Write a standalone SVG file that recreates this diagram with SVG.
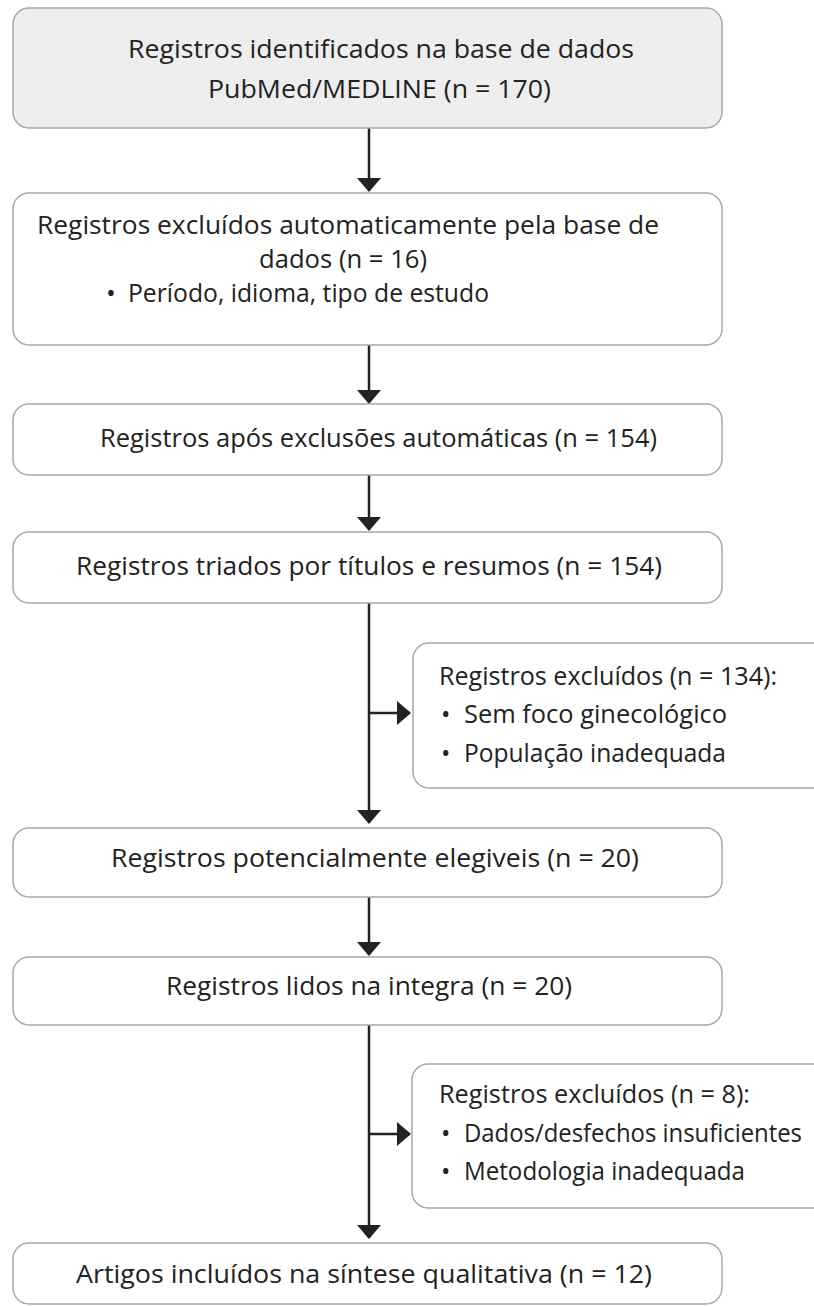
<svg xmlns="http://www.w3.org/2000/svg" width="814" height="1306" viewBox="0 0 814 1306">
<defs>
<style>
.box{fill:#ffffff;stroke:#a8a8a8;stroke-width:1.5}
.grey{fill:#eeeeee}
.t{font-family:"Open Sans","Noto Sans",sans-serif;font-size:26px;fill:#222222}
.s{font-family:"Open Sans","Noto Sans",sans-serif;font-size:25px;fill:#222222}
.ln{stroke:#222222;stroke-width:2.5;fill:none}
</style>
<marker id="ah" viewBox="0 0 14 24" refX="13" refY="12" markerWidth="14" markerHeight="24" markerUnits="userSpaceOnUse" orient="auto">
<path d="M0,0 L14,12 L0,24 Z" fill="#222222"/>
</marker>
</defs>
<rect width="814" height="1306" fill="#ffffff"/>
<g id="connectors">
<line class="ln" x1="369" y1="128" x2="369" y2="191" marker-end="url(#ah)"/>
<line class="ln" x1="369" y1="345" x2="369" y2="403" marker-end="url(#ah)"/>
<line class="ln" x1="369" y1="475" x2="369" y2="530" marker-end="url(#ah)"/>
<line class="ln" x1="369" y1="603" x2="369" y2="823" marker-end="url(#ah)"/>
<line class="ln" x1="369" y1="713" x2="410" y2="713" marker-end="url(#ah)"/>
<line class="ln" x1="369" y1="897" x2="369" y2="955" marker-end="url(#ah)"/>
<line class="ln" x1="369" y1="1025" x2="369" y2="1238" marker-end="url(#ah)"/>
<line class="ln" x1="369" y1="1134" x2="410" y2="1134" marker-end="url(#ah)"/>
</g>
<g id="n1">
<rect class="box grey" x="13" y="8" width="709" height="120" rx="16"/>
<text class="t" x="128" y="58" textLength="506" lengthAdjust="spacingAndGlyphs">Registros identificados na base de dados</text>
<text class="t" x="208" y="98" textLength="343" lengthAdjust="spacingAndGlyphs">PubMed/MEDLINE (n = 170)</text>
</g>
<g id="n2">
<rect class="box" x="13" y="193" width="709" height="152" rx="16"/>
<text class="t" x="37" y="234" textLength="622" lengthAdjust="spacingAndGlyphs">Registros excluídos automaticamente pela base de</text>
<text class="t" x="259" y="268" textLength="168" lengthAdjust="spacingAndGlyphs">dados (n = 16)</text>
<text class="t" x="106" y="302">•</text>
<text class="t" x="128" y="302" textLength="361" lengthAdjust="spacingAndGlyphs">Período, idioma, tipo de estudo</text>
</g>
<g id="n3">
<rect class="box" x="13" y="404" width="709" height="71" rx="16"/>
<text class="t" x="100" y="447" textLength="557" lengthAdjust="spacingAndGlyphs">Registros após exclusões automáticas (n = 154)</text>
</g>
<g id="n4">
<rect class="box" x="13" y="532" width="709" height="71" rx="16"/>
<text class="t" x="76" y="575" textLength="586" lengthAdjust="spacingAndGlyphs">Registros triados por títulos e resumos (n = 154)</text>
</g>
<g id="n5">
<rect class="box" x="413" y="643" width="416" height="145" rx="16"/>
<text class="s" x="439" y="685" textLength="338" lengthAdjust="spacingAndGlyphs">Registros excluídos (n = 134):</text>
<text class="s" x="441" y="723">•</text>
<text class="s" x="464" y="723" textLength="263" lengthAdjust="spacingAndGlyphs">Sem foco ginecológico</text>
<text class="s" x="441" y="762">•</text>
<text class="s" x="464" y="762" textLength="262" lengthAdjust="spacingAndGlyphs">População inadequada</text>
</g>
<g id="n6">
<rect class="box" x="13" y="828" width="709" height="69" rx="16"/>
<text class="t" x="111" y="867" textLength="528" lengthAdjust="spacingAndGlyphs">Registros potencialmente elegiveis (n = 20)</text>
</g>
<g id="n7">
<rect class="box" x="13" y="957" width="709" height="68" rx="16"/>
<text class="t" x="166" y="995" textLength="406" lengthAdjust="spacingAndGlyphs">Registros lidos na integra (n = 20)</text>
</g>
<g id="n8">
<rect class="box" x="412" y="1064" width="416" height="144" rx="16"/>
<text class="s" x="439" y="1103" textLength="311" lengthAdjust="spacingAndGlyphs">Registros excluídos (n = 8):</text>
<text class="s" x="441" y="1142">•</text>
<text class="s" x="464" y="1142" textLength="338" lengthAdjust="spacingAndGlyphs">Dados/desfechos insuficientes</text>
<text class="s" x="441" y="1180">•</text>
<text class="s" x="464" y="1180" textLength="281" lengthAdjust="spacingAndGlyphs">Metodologia inadequada</text>
</g>
<g id="n9">
<rect class="box" x="13" y="1243" width="709" height="61" rx="16"/>
<text class="t" x="76" y="1283" textLength="576" lengthAdjust="spacingAndGlyphs">Artigos incluídos na síntese qualitativa (n = 12)</text>
</g>
</svg>
